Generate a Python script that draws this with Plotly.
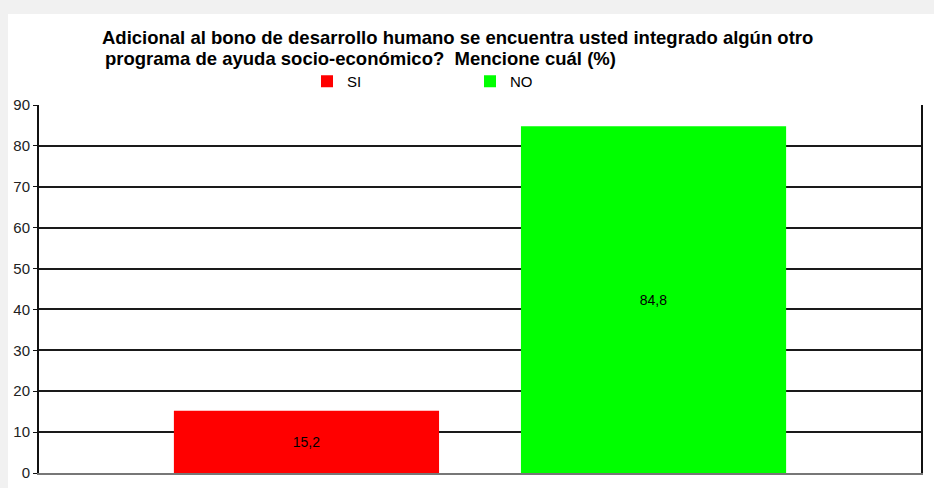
import plotly.graph_objects as go

categories = ["SI", "NO"]
values = [15.2, 84.8]
colors = ["#ff0000", "#00ff00"]
group_label = ["Programa"]
y_ticks = [0, 10, 20, 30, 40, 50, 60, 70, 80, 90]

title_line1 = "Adicional al bono de desarrollo humano se encuentra usted integrado algún otro"
title_line2 = "programa de ayuda socio-económico?  Mencione cuál (%)"

W, H = 934, 488
# plot area in page pixels
PL, PR, PT, PB = 39, 921, 105, 473

fig = go.Figure()
for name, v, c in zip(categories, values, colors):
    fig.add_trace(go.Bar(
        x=group_label, y=[v], name=name,
        marker=dict(color=c, line=dict(width=0)),
        texttemplate="%{y:.1f}", textposition="inside",
        insidetextanchor="middle",
        textfont=dict(family="Liberation Sans, Arial", size=14, color="#000000"),
        hoverinfo="skip",
    ))

def px2x(px):
    return (px - PL) / (PR - PL)

def py2y(py):
    return (PB - py) / (PB - PT)

fig.update_layout(
    width=W, height=H,
    margin=dict(l=PL, r=W - PR, t=PT, b=H - PB, pad=0, autoexpand=False),
    paper_bgcolor="#f1f1f1",
    plot_bgcolor="#ffffff",
    separators=",.",
    barmode="group",
    bargap=0.213,
    bargroupgap=0.236,
    showlegend=True,
    legend=dict(
        orientation="h", x=px2x(307), xanchor="left", y=py2y(65), yanchor="top",
        bgcolor="rgba(0,0,0,0)",
        font=dict(family="Liberation Sans, Arial", size=15, color="#000000"),
        entrywidth=118, entrywidthmode="pixels", itemwidth=30,
        traceorder="normal",
    ),
    shapes=[
        dict(type="rect", xref="paper", yref="paper",
             x0=px2x(8), x1=px2x(950), y0=py2y(14), y1=py2y(510),
             fillcolor="#ffffff", line=dict(width=0), layer="below"),
    ],
    annotations=[
        dict(text="<b>" + title_line1 + "</b>", xref="paper", yref="paper",
             x=px2x(100), y=py2y(37), xanchor="left", yanchor="middle",
             showarrow=False,
             font=dict(family="Liberation Sans, Arial", size=18.5, color="#000000")),
        dict(text="<b>" + title_line2 + "</b>", xref="paper", yref="paper",
             x=px2x(103), y=py2y(58.5), xanchor="left", yanchor="middle",
             showarrow=False,
             font=dict(family="Liberation Sans, Arial", size=18.5, color="#000000")),
    ],
)

fig.update_xaxes(
    showticklabels=False, showgrid=False, zeroline=False,
    showline=True, linecolor="#777777", linewidth=2, mirror=False,
    ticks="",
)
fig.update_yaxes(
    range=[0, 90], tickvals=y_ticks, ticktext=[str(t) for t in y_ticks],
    showgrid=True, gridcolor="#1a1a1a", gridwidth=1.5,
    zeroline=False,
    showline=True, linecolor="#111111", linewidth=2, mirror=True,
    ticks="outside", ticklen=4, tickcolor="#111111", tickwidth=1,
    tickfont=dict(family="Liberation Sans, Arial", size=15, color="#222222"),
)

fig.write_html(
    "out.html",
    config={"displayModeBar": False},
    post_script="document.body.style.margin='0';document.body.style.overflow='hidden';",
)
